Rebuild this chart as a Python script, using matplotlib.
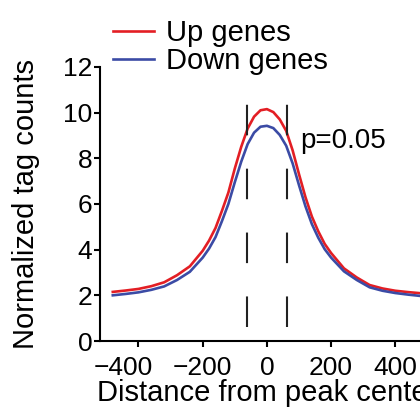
import matplotlib
matplotlib.use("Agg")
import matplotlib.pyplot as plt
from matplotlib.transforms import ScaledTranslation

plt.rcParams['font.family'] = ['Liberation Sans', 'DejaVu Sans']
plt.rcParams['lines.scale_dashes'] = False

# distance from peak center (bp)
dist = [-480, -440, -400, -360, -320, -280, -240, -200, -180, -160, -140, -120,
        -100, -80, -60, -40, -20, 0, 20, 40, 60, 80, 100, 120, 140, 160, 180,
        200, 240, 280, 320, 360, 400, 440, 480]

up_genes = [2.15, 2.21, 2.28, 2.40, 2.57, 2.88, 3.27, 3.95, 4.40, 4.95, 5.70, 6.50,
            7.55, 8.50, 9.30, 9.82, 10.10, 10.15, 10.02, 9.70, 9.20, 8.35, 7.30, 6.30,
            5.45, 4.80, 4.25, 3.85, 3.18, 2.78, 2.45, 2.30, 2.20, 2.14, 2.09]

down_genes = [2.00, 2.06, 2.13, 2.24, 2.39, 2.67, 3.03, 3.65, 4.05, 4.55, 5.25, 6.00,
              6.95, 7.85, 8.62, 9.12, 9.38, 9.42, 9.32, 9.02, 8.55, 7.78, 6.82, 5.90,
              5.12, 4.52, 4.02, 3.65, 3.05, 2.67, 2.35, 2.20, 2.10, 2.03, 1.97]

# window boundaries used for the test
window = [-62, 62]

fig = plt.figure(figsize=(4.2, 4.11), dpi=100)
ax = fig.add_axes([0.238, 0.1703, 0.795, 0.667])

ax.plot(dist, up_genes, color='#e31e24', lw=1.9, label='Up genes')
ax.plot(dist, down_genes, color='#3b4ba5', lw=1.9, label='Down genes')

ax.vlines(window, 0.6, 10.4, colors='#222222', lw=1.5, linestyles=[(0, (22, 24))])
ax.text(103, 8.76, 'p=0.05', fontsize=20, va='center', ha='left')

ax.set_xlim(-520, 520)
ax.set_ylim(0, 12)
ax.set_xticks([-400, -200, 0, 200, 400])
ax.set_yticks([0, 2, 4, 6, 8, 10, 12])
ax.tick_params(labelsize=19, width=1.5, length=4.5)
ax.tick_params(axis='x', pad=6)
ax.tick_params(axis='y', pad=1)
for s in ['top', 'right']:
    ax.spines[s].set_visible(False)
for s in ['left', 'bottom']:
    ax.spines[s].set_linewidth(1.5)

ax.set_xlabel('Distance from peak center', fontsize=21)
ax.xaxis.set_label_coords(0.5, -0.14)
ax.set_ylabel('Normalized tag counts', fontsize=21)
ax.yaxis.set_label_coords(-0.18, 0.5)

fig.legend(loc='upper left', bbox_to_anchor=(0.221, 1.003), frameon=False,
           fontsize=21, handlelength=1.4, handletextpad=0.4, labelspacing=0.0,
           borderpad=0.2)

# first x label sits a little left of its tick in the original
lab = ax.get_xticklabels()[0]
lab.set_transform(lab.get_transform() + ScaledTranslation(-0.15, 0, fig.dpi_scale_trans))

fig.savefig('out.png', dpi=100)
